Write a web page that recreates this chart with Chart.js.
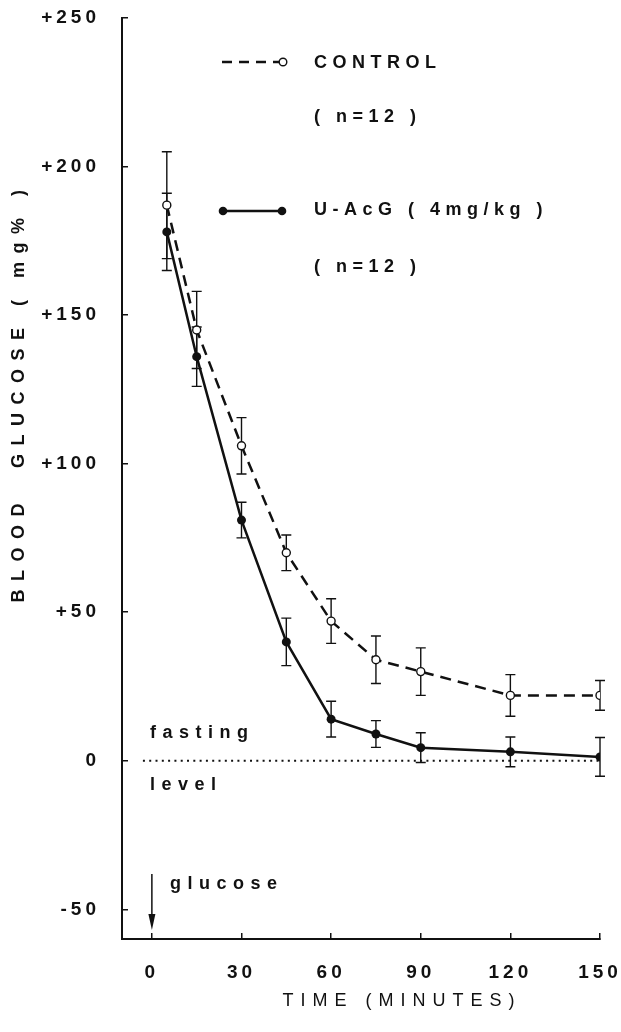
<!DOCTYPE html>
<html><head><meta charset="utf-8">
<script src="https://cdn.jsdelivr.net/npm/chart.js@4"></script>
<style>html,body{margin:0;padding:0;background:#fff}canvas{display:block}</style>
</head><body>
<canvas id="c" width="621" height="1032"></canvas>
<script>
const times = [5, 15, 30, 45, 60, 75, 90, 120, 150];
const controlMean = [187, 145, 106, 70, 47, 34, 30, 22, 22];
const controlErr = [18, 13, 9.5, 6, 7.5, 8, 8, 7, 5];
const uacgMean = [178, 136, 81, 40, 14, 9, 4.4, 3, 1.3];
const uacgErr = [13, 10, 6, 8, 6, 4.5, 5, 5, 6.5];
const xTicks = [0, 30, 60, 90, 120, 150];
const yTicks = [-50, 0, 50, 100, 150, 200, 250];
const fastingX = [-3, 150];
const fastingY = [0, 0];
const INK = '#111';
const FONT = 'Liberation Sans';

const pts = (xs, ys) => xs.map((x, i) => ({x, y: ys[i]}));

const spacing = {
  id: 'spacing',
  beforeDraw(chart) { chart.ctx.letterSpacing = '4px'; }
};

const errorBars = {
  id: 'errorBars',
  beforeDatasetsDraw(chart) {
    const {ctx, scales: {x, y}} = chart;
    ctx.save();
    ctx.strokeStyle = INK;
    ctx.lineWidth = 1.4;
    const sets = [[controlMean, controlErr], [uacgMean, uacgErr]];
    sets.forEach(([m, e]) => {
      times.forEach((t, i) => {
        const px = x.getPixelForValue(t);
        const y1 = y.getPixelForValue(m[i] + e[i]);
        const y2 = y.getPixelForValue(m[i] - e[i]);
        ctx.beginPath();
        ctx.moveTo(px, y1); ctx.lineTo(px, y2);
        ctx.moveTo(px - 5, y1); ctx.lineTo(px + 5, y1);
        ctx.moveTo(px - 5, y2); ctx.lineTo(px + 5, y2);
        ctx.stroke();
      });
    });
    ctx.restore();
  }
};

const annotations = {
  id: 'annotations',
  afterDraw(chart) {
    const {ctx, scales: {x, y}} = chart;
    ctx.save();
    ctx.fillStyle = INK; ctx.strokeStyle = INK;
    ctx.textBaseline = 'middle'; ctx.textAlign = 'left';
    ctx.letterSpacing = '5.5px';
    ctx.font = 'bold 18px "' + FONT + '"';
    // legend
    ctx.lineWidth = 2.5;
    ctx.setLineDash([10, 7]);
    ctx.beginPath(); ctx.moveTo(222, 62); ctx.lineTo(279, 62); ctx.stroke();
    ctx.setLineDash([]);
    ctx.lineWidth = 1.4;
    ctx.beginPath(); ctx.arc(283, 62, 3.8, 0, Math.PI * 2);
    ctx.fillStyle = '#fff'; ctx.fill(); ctx.stroke();
    ctx.fillStyle = INK;
    ctx.lineWidth = 2.5;
    ctx.beginPath(); ctx.moveTo(223, 211); ctx.lineTo(282, 211); ctx.stroke();
    [223, 282].forEach(px => { ctx.beginPath(); ctx.arc(px, 211, 4.3, 0, Math.PI * 2); ctx.fill(); });
    ctx.fillText('CONTROL', 314, 63);
    ctx.fillText('( n=12 )', 314, 117);
    ctx.fillText('U-AcG ( 4mg/kg )', 314, 210);
    ctx.fillText('( n=12 )', 314, 267);
    // fasting level
    ctx.letterSpacing = '6.5px';
    ctx.fillText('fasting', 150, 733);
    ctx.fillText('level', 150, 785);
    ctx.fillText('glucose', 170, 884);
    // arrow at glucose time 0
    const ax = x.getPixelForValue(0);
    ctx.lineWidth = 1.5;
    ctx.beginPath(); ctx.moveTo(ax, 874); ctx.lineTo(ax, 918); ctx.stroke();
    ctx.beginPath(); ctx.moveTo(ax - 3.5, 914); ctx.lineTo(ax + 3.5, 914); ctx.lineTo(ax, 930); ctx.closePath(); ctx.fill();
    // x title
    ctx.textAlign = 'center';
    ctx.letterSpacing = '7px';
    ctx.font = '18px "' + FONT + '"';
    ctx.fillText('TIME (MINUTES)', 402, 1001);
    // y title
    ctx.save();
    ctx.translate(19, 392);
    ctx.rotate(-Math.PI / 2);
    ctx.textAlign = 'center';
    ctx.letterSpacing = '8.5px';
    ctx.font = 'bold 18px "' + FONT + '"';
    ctx.fillText('BLOOD  GLUCOSE ( mg% )', 0, 0);
    ctx.restore();
    ctx.restore();
  }
};

const zeroPad = s => { s.paddingLeft = 0; s.paddingRight = 0; s.paddingTop = 0; s.paddingBottom = 0; };

new Chart(document.getElementById('c'), {
  type: 'scatter',
  data: {
    datasets: [
      {
        label: 'fasting level',
        data: pts(fastingX, fastingY),
        showLine: true, borderColor: INK, borderWidth: 2,
        borderDash: [2, 4.3], pointRadius: 0
      },
      {
        label: 'CONTROL (n=12)',
        data: pts(times, controlMean),
        showLine: true, borderColor: INK, borderWidth: 2.5,
        borderDash: [11, 7], tension: 0,
        pointRadius: 4, pointBackgroundColor: '#fff',
        pointBorderColor: INK, pointBorderWidth: 1.4
      },
      {
        label: 'U-AcG (4mg/kg) (n=12)',
        data: pts(times, uacgMean),
        showLine: true, borderColor: INK, borderWidth: 2.5, tension: 0,
        pointRadius: 4.5, pointBackgroundColor: INK,
        pointBorderColor: INK, pointBorderWidth: 0
      }
    ]
  },
  options: {
    responsive: false, animation: false, devicePixelRatio: 1,
    layout: {padding: {top: 18, right: 21, left: 0, bottom: 0}},
    plugins: {legend: {display: false}, tooltip: {enabled: false}},
    scales: {
      x: {
        type: 'linear', min: -10, max: 150,
        afterBuildTicks: s => { s.ticks = xTicks.map(v => ({value: v})); },
        afterFit: s => { s.height = 93; zeroPad(s); },
        grid: {drawOnChartArea: false, drawTicks: true, tickLength: -6, color: INK, lineWidth: 1.5},
        border: {display: true, color: INK, width: 2},
        ticks: {color: INK, font: {family: FONT, size: 19, weight: 'bold'}, padding: 28, maxRotation: 0, autoSkip: false}
      },
      y: {
        type: 'linear', min: -60, max: 250,
        afterBuildTicks: s => { s.ticks = yTicks.map(v => ({value: v})); },
        afterFit: s => { s.width = 122; zeroPad(s); },
        grid: {drawOnChartArea: false, drawTicks: true, tickLength: -6, color: INK, lineWidth: 1.5},
        border: {display: true, color: INK, width: 2},
        ticks: {color: INK, font: {family: FONT, size: 19, weight: 'bold'}, padding: 28, autoSkip: false,
          callback: v => (v > 0 ? '+' + v : String(v))}
      }
    }
  },
  plugins: [spacing, errorBars, annotations]
});
</script>
</body></html>
